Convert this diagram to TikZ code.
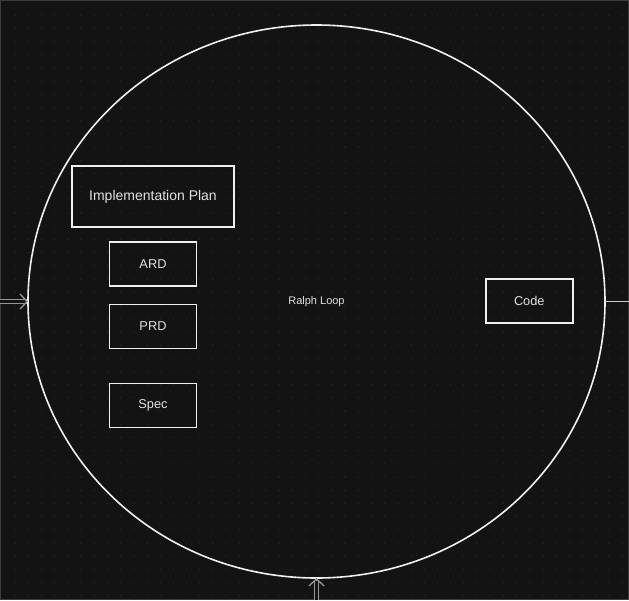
\documentclass[tikz,border=0pt]{standalone}
\usepackage{fontspec}
\setmainfont{Liberation Sans}
\usetikzlibrary{shapes.geometric, arrows.meta, positioning}

\definecolor{canvas}{RGB}{19,19,19}
\definecolor{griddot}{RGB}{38,38,38}
\definecolor{frame}{RGB}{60,60,60}
\definecolor{chalk}{RGB}{240,240,240}
\definecolor{label}{RGB}{225,225,225}
\definecolor{feedgray}{RGB}{150,150,150}

\begin{document}
\begin{tikzpicture}[
      x=1pt, y=-1pt,
      loopring/.style={
          ellipse,
          draw=chalk,
          line width=1.6pt,
          minimum width=577pt,
          minimum height=553pt,
          inner sep=0pt,
          outer sep=0pt,
          text=label,
          font=\fontsize{11}{13}\selectfont
        },
      doc/.style={
          rectangle,
          draw=chalk,
          line width=1.7pt,
          align=center,
          minimum width=87pt,
          minimum height=44pt,
          inner sep=0pt,
          text=label,
          font=\fontsize{12.8}{15}\selectfont
        },
      bigdoc/.style={
          doc,
          minimum width=162pt,
          minimum height=61pt,
          font=\fontsize{14}{16}\selectfont
        },
      feed/.style={
          draw=feedgray,
          line width=1.1pt,
          double=canvas,
          double distance=3.2pt,
          shorten >=1.5pt
        },
      barbhead/.style={
          draw=feedgray,
          line width=1.3pt,
          -{Straight Barb[length=7pt, width=15pt]},
          shorten <=#1
        },
      wire/.style={
          draw=chalk!85!black,
          line width=1.1pt
        }
    ]

    % Canvas
    \fill[canvas] (0,0) rectangle (629,600);
    \useasboundingbox (0,0) rectangle (629,600);
    \foreach \i in {0,...,46}
      \foreach \j in {0,...,44}
        \fill[griddot] ({15+13.2*\i},{15+13.2*\j}) circle (0.8pt);
    \draw[frame, line width=1pt] (0.5,0.5) rectangle (628.5,599.5);

    % Nodes
    \node[loopring] (loop) at (316.5,301.5) {Ralph Loop};
    \node[bigdoc] (plan) at (153,196.5) {Implementation Plan};
    \node[doc, below=13.5pt of plan] (ard) {ARD};
    \node[doc, below=16.5pt of ard] (prd) {PRD};
    \node[doc, below=33.5pt of prd] (spec) {Spec};
    \node[doc] (code) at (529.3,301.3) {Code};

    \coordinate (in) at (0,301.5);
    \coordinate (up) at (316.5,600);
    \coordinate (out) at (629,301.5);

    % Arrows
    \draw[feed] (in) -- (loop.west);
    \draw[barbhead=26pt] (in) -- (loop.west);
    \draw[feed] (up) -- (loop.south);
    \draw[barbhead=20pt] (up) -- (loop.south);
    \draw[wire] (loop.east) -- (out);

  \end{tikzpicture}
\end{document}
